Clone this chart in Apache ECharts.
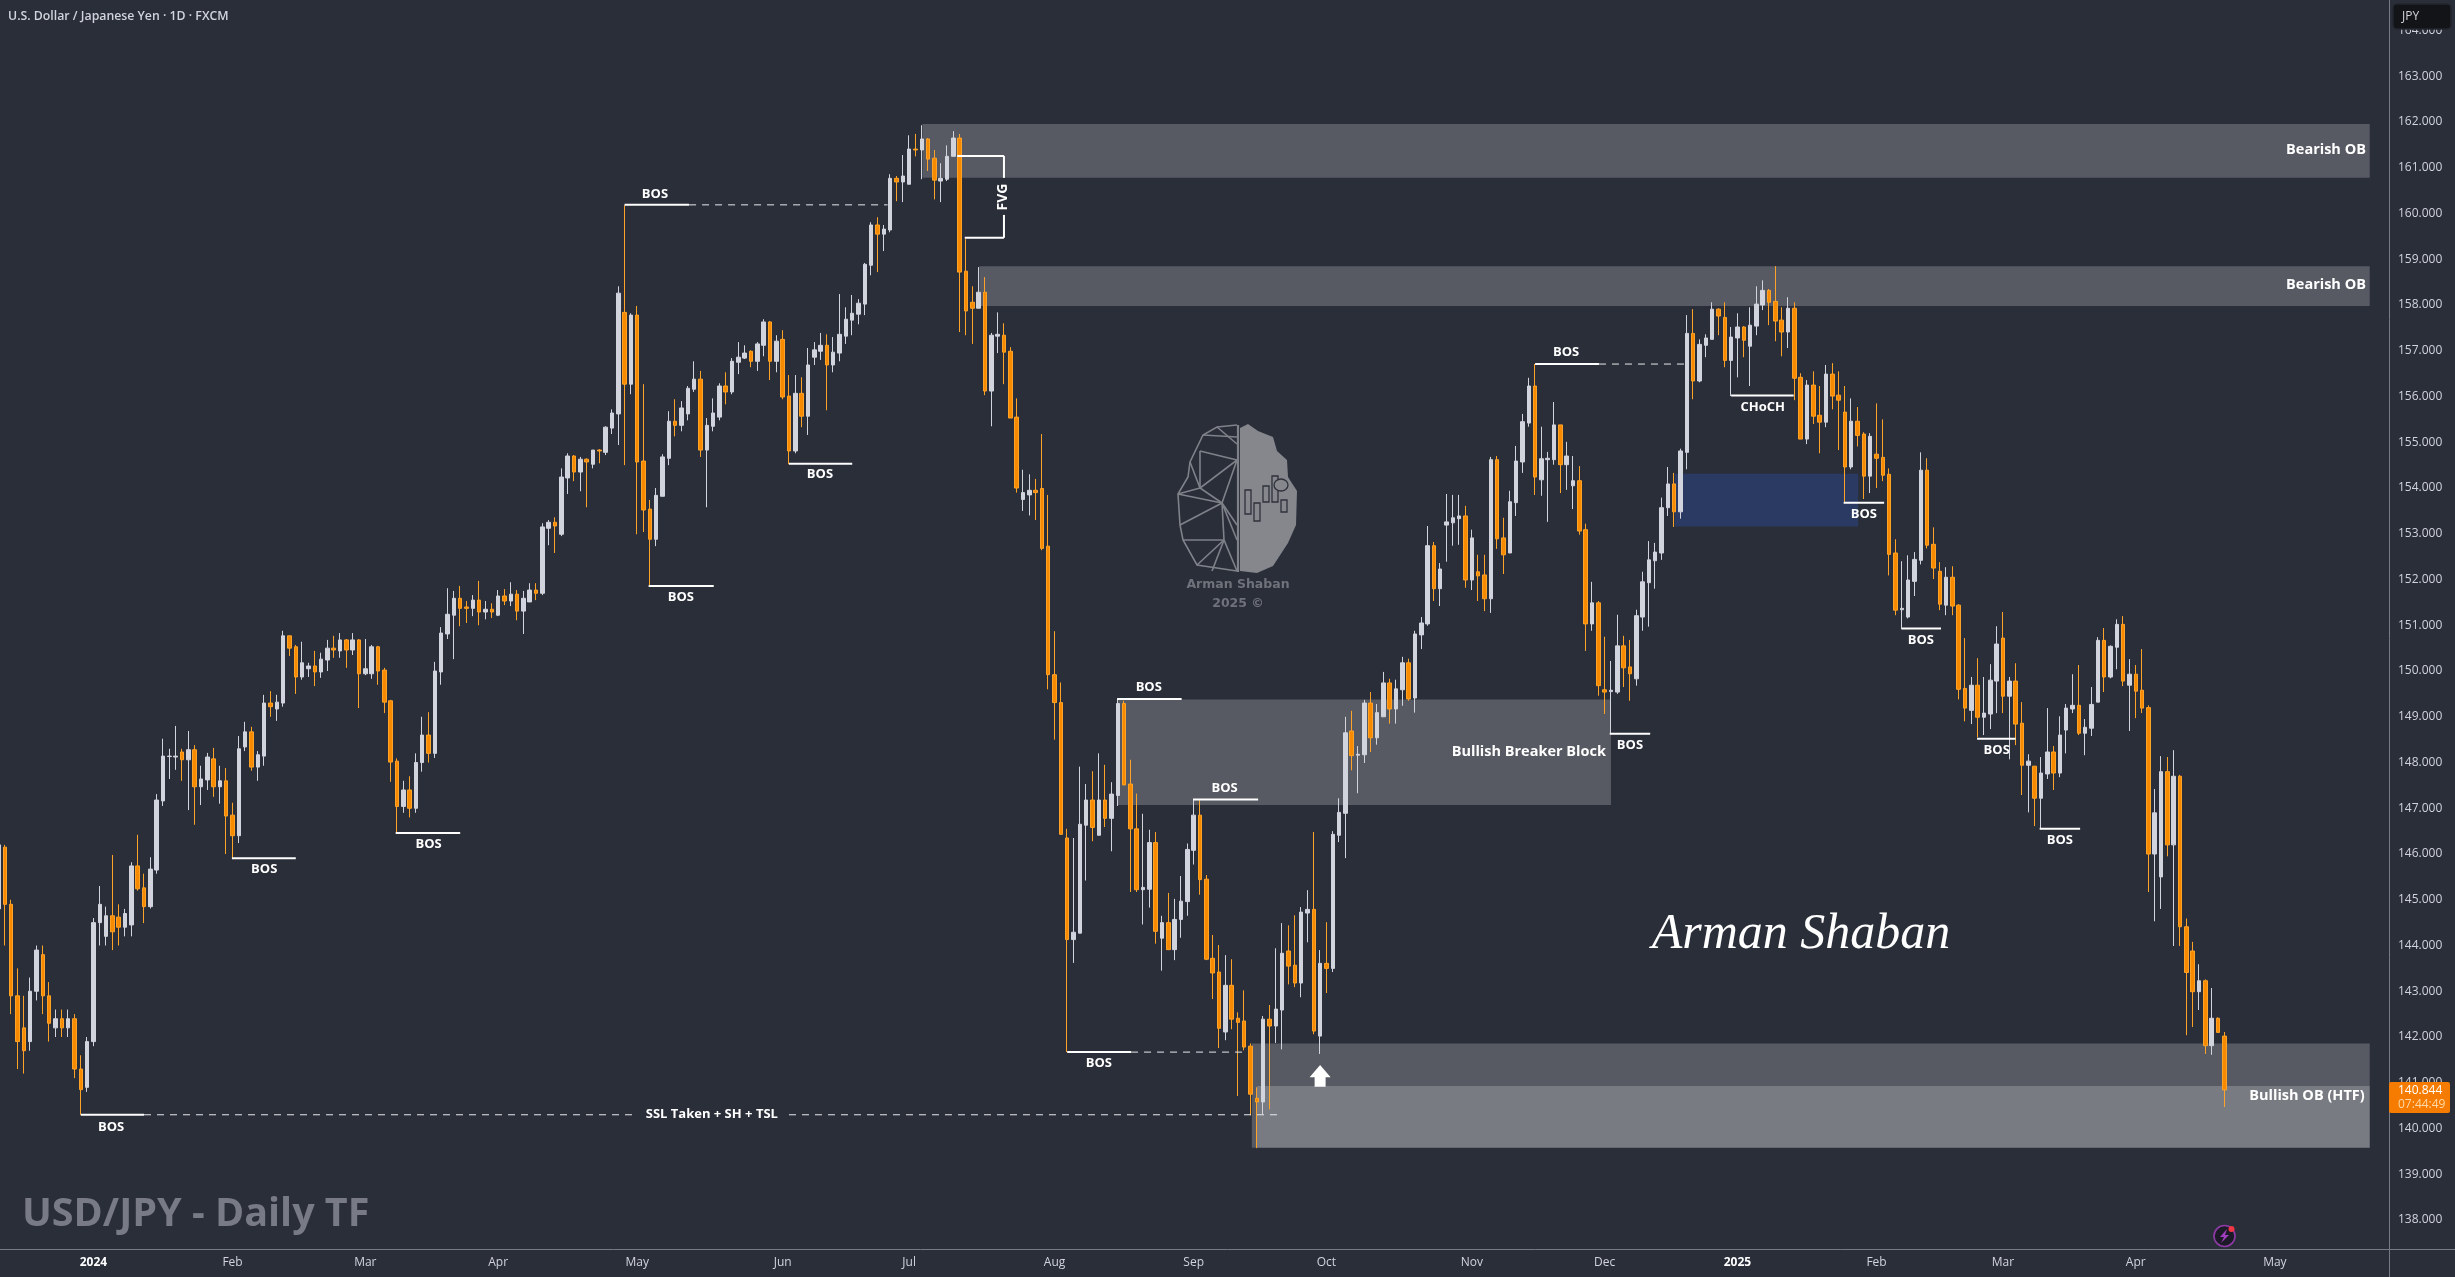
<!DOCTYPE html>
<html><head><meta charset="utf-8">
<style>html,body{margin:0;padding:0;background:#2a2e39;overflow:hidden;width:2455px;height:1277px;position:relative}#c{position:absolute;left:-5px;top:0;width:2460px;height:1277px}</style>
<script src="https://cdn.jsdelivr.net/npm/echarts@6/dist/echarts.min.js"></script>
</head><body><div id="c"></div>
<script>
const opens=[
144.8,146.15,144.9,142.9,142.2,141.9,143.0,143.8,142.9,142.2,142.4,142.2,142.4,141.3,140.9,141.9,144.5,144.2,144.65,144.62,144.4,
144.45,145.74,145.26,144.85,145.65,147.16,148.13,148.12,148.23,148.06,148.28,147.47,147.62,148.08,147.47,147.60,146.85,146.40,148.34,148.67,147.90,148.14,149.30,149.17,149.30,150.77,150.53,149.87,150.05,150.11,149.98,150.24,150.50,150.44,150.68,150.46,150.68,149.94,149.94,150.53,150.02,149.35,148.03,
147.04,147.4,147.0,148.0,148.6,148.2,
149.98,150.81,151.22,151.59,151.40,151.37,151.55,151.29,151.35,151.22,151.64,151.53,151.68,151.31,151.51,151.77,151.70,153.12,153.25,152.99,154.22,154.70,154.35,154.63,154.52,154.83,154.78,155.31,155.62,157.84,156.27,157.78,154.59,153.54,152.88,153.82,154.65,155.46,155.37,155.62,156.16,156.38,154.83,155.35,155.55,156.23,156.10,156.75,156.84,156.99,156.77,157.12,157.63,156.77,157.25,156.01,154.81,
156.07,155.57,156.86,156.99,157.12,156.69,156.95,157.32,157.67,157.80,158.02,158.87,159.75,159.55,159.64,160.77,160.69,160.64,161.41,161.39,161.63,161.21,160.71,160.75,161.25,161.65,158.74,158.06,157.93,158.28,156.12,157.32,157.34,156.99,155.55,
153.75,153.85,153.95,
153.99,152.73,149.92,149.31,146.35,144.13,144.27,146.63,147.18,146.41,147.18,146.78,147.28,149.29,147.53,146.55,145.22,145.23,146.25,144.16,144.50,143.91,144.57,144.96,146.08,146.85,
145.45,143.72,143.42,142.11,143.13,142.41,142.35,141.80,140.66,140.58,142.39,142.24,142.59,143.88,143.57,143.18,144.71,144.79,142.02,143.61,143.50,146.41,146.89,
148.69,148.16,148.17,149.30,148.54,149.00,149.74,149.17,149.59,150.18,149.41,150.79,151.03,152.74,151.80,153.19,153.24,153.33,153.39,151.99,152.17,152.10,151.58,154.62,152.91,152.58,153.68,154.57,155.42,156.23,154.18,154.62,154.62,155.38,154.51,154.05,154.16,153.09,151.03,151.49,149.59,149.55,149.54,150.55,150.09,149.83,151.18,151.93,152.41,152.58,153.57,154.09,153.48,
154.78,157.38,156.34,157.12,157.25,157.91,157.73,156.79,157.28,157.52,157.10,157.54,158.00,158.32,158.08,157.67,157.41,157.93,156.42,155.07,156.25,155.59,155.44,156.49,156.03,155.66,154.46,155.46,155.18,154.26,154.74,154.67,154.30,152.58,151.34,151.18,151.96,152.42,154.39,152.77,152.18,151.44,152.05,
151.44,149.62,149.14,149.69,148.99,149.06,149.78,150.72,149.45,149.78,148.86,147.94,147.92,147.22,147.75,148.23,147.77,148.71,149.17,149.25,148.64,148.75,149.32,150.67,149.87,150.52,151.02,149.69,149.93,149.58,
149.20,146.00,145.50,147.80,146.20,147.70,144.41,143.88,142.99,143.23,141.81,142.41,142.02];
const closes=[
146.2,144.9,142.9,141.9,141.7,143.0,143.9,142.9,142.3,142.4,142.2,142.4,141.3,140.85,141.9,144.5,144.9,144.65,144.3,144.4,144.7,
145.74,145.24,144.85,145.67,147.18,148.14,148.14,148.14,148.06,148.28,147.47,147.64,148.12,147.47,147.60,146.83,146.40,148.30,148.67,147.90,148.17,149.30,149.22,149.32,150.77,150.50,149.87,150.18,150.11,149.98,150.26,150.50,150.46,150.68,150.46,150.68,149.94,150.05,150.53,150.00,149.32,148.01,147.04,
147.4,147.0,148.0,148.6,148.2,150.0,
150.83,151.24,151.59,151.37,151.37,151.55,151.29,151.35,151.29,151.64,151.53,151.68,151.31,151.59,151.77,151.70,153.15,153.25,153.17,154.24,154.70,154.35,154.63,154.57,154.83,154.81,155.33,155.64,158.26,156.27,157.78,154.57,153.52,152.88,153.84,154.68,155.46,155.37,155.75,156.18,156.38,154.83,155.37,155.64,156.23,156.10,156.77,156.86,156.95,156.77,157.15,157.63,156.77,157.21,155.99,154.81,156.07,
155.57,156.69,157.02,157.12,156.69,156.97,157.36,157.69,157.82,158.04,158.89,159.75,159.55,159.66,160.77,160.69,160.82,161.41,161.39,161.63,161.19,160.73,160.77,161.25,161.65,158.72,157.87,157.93,158.28,156.12,157.34,157.36,156.97,155.53,154.0,
153.9,153.95,153.9,
152.68,149.92,149.31,146.43,144.13,144.29,146.65,147.18,146.58,147.18,146.78,147.31,149.29,147.51,146.55,145.22,145.27,146.25,144.31,144.50,143.91,144.57,144.97,146.10,146.85,145.44,
143.70,143.40,142.19,143.13,142.39,142.32,141.78,140.75,140.58,142.39,142.24,142.61,143.83,143.55,143.18,144.73,144.79,142.13,143.61,143.50,146.43,146.91,148.65,
148.15,148.18,149.30,148.54,149.09,149.74,149.17,149.61,150.18,149.39,150.81,151.05,152.74,151.80,152.23,153.26,153.35,153.39,151.99,152.91,152.08,151.58,154.62,152.89,152.54,153.70,154.59,155.45,156.23,154.24,154.64,154.65,155.38,154.51,154.70,154.16,153.06,151.03,151.49,149.68,149.54,149.58,150.55,150.07,149.94,151.21,151.95,152.43,152.60,153.57,154.09,153.48,154.81,
157.38,156.34,157.14,157.28,157.91,157.76,156.79,157.30,157.52,157.23,157.56,158.02,158.32,158.06,157.65,157.41,157.93,156.40,155.07,156.25,155.57,155.44,156.49,156.01,155.92,154.46,155.46,155.15,154.26,155.13,154.65,154.28,152.55,151.33,151.37,151.99,152.44,154.39,152.75,152.25,151.46,152.05,151.42,
149.60,149.19,149.69,148.99,149.08,149.80,150.59,149.45,149.78,148.84,147.94,148.03,147.22,147.77,148.23,147.77,148.60,149.19,149.25,148.64,148.77,149.27,150.67,149.87,150.54,151.02,149.78,149.93,149.56,149.19,
146.00,146.90,147.80,146.20,147.70,144.41,143.41,142.99,143.23,141.81,142.41,142.10,140.844];
const lows=[
144.6,144.0,142.5,141.3,141.2,141.7,142.8,142.5,141.9,142.0,142.0,142.0,141.1,140.3,140.8,141.8,144.0,144.0,143.9,144.0,144.2,
144.2,145.20,144.49,144.81,145.57,147.05,147.64,147.84,147.60,146.96,146.64,147.07,147.40,147.25,147.10,146.00,145.91,146.24,148.25,147.82,147.60,147.93,149.00,148.91,149.22,150.33,149.50,149.81,149.87,149.67,149.85,150.00,150.29,150.29,150.07,150.35,149.19,149.91,149.83,149.70,149.08,147.58,146.46,
146.9,146.8,146.9,147.8,148.0,148.1,
149.7,150.70,150.26,150.98,151.05,151.20,151.00,151.13,151.16,151.20,151.44,151.42,151.11,150.81,151.51,151.55,151.66,152.75,152.58,152.95,153.87,154.15,153.93,153.58,154.43,154.54,154.72,155.18,154.94,154.50,156.05,152.99,153.04,151.86,152.73,153.82,154.50,155.13,155.24,155.48,156.10,154.68,153.58,155.24,155.48,155.83,156.05,156.49,156.82,156.64,156.56,156.88,156.36,156.53,155.94,154.52,154.76,
155.33,155.16,156.69,156.80,155.70,156.53,156.77,157.15,157.34,157.58,157.78,158.65,158.72,159.18,159.59,160.27,160.25,160.64,161.25,160.75,160.93,160.31,160.25,160.71,161.25,157.41,157.34,157.15,157.93,156.03,155.35,156.95,156.27,155.53,153.9,
153.5,153.4,153.3,
152.64,149.60,148.50,146.43,141.67,143.62,144.27,145.42,146.28,146.41,146.59,146.06,147.05,147.51,145.17,145.17,144.46,144.83,144.04,143.45,143.91,143.68,144.17,144.65,145.77,145.11,
143.68,142.83,141.76,141.93,142.17,140.71,141.71,140.29,139.57,140.31,140.42,141.87,141.73,143.15,143.09,142.87,144.07,142.06,141.63,142.96,143.42,146.26,145.91,
147.83,147.33,147.99,148.23,148.39,149.00,148.85,148.85,149.24,149.35,149.09,150.48,150.99,151.53,151.42,152.39,152.74,152.76,151.82,151.77,151.53,151.31,151.27,152.67,152.12,152.58,153.39,154.33,155.34,153.85,153.83,153.26,154.51,153.89,153.96,153.54,152.98,150.44,150.88,149.46,149.06,148.63,149.50,149.65,149.35,149.68,150.88,150.97,151.80,152.43,153.39,153.15,153.33,
154.41,155.94,156.31,156.86,157.25,157.34,156.64,156.01,156.42,156.86,156.23,157.34,157.89,157.56,157.21,156.88,157.06,155.92,155.07,154.96,155.40,154.76,155.33,155.72,154.83,153.67,154.41,154.91,153.76,153.89,154.00,154.15,152.09,151.22,150.91,151.15,151.64,152.33,152.68,152.01,151.33,151.22,151.22,
149.38,148.90,148.84,148.55,148.60,148.73,149.08,149.08,148.07,148.38,147.29,146.91,146.61,146.54,147.64,147.40,147.68,148.20,149.08,148.60,148.16,148.58,149.32,149.54,149.84,150.04,149.67,148.69,148.97,149.08,
145.17,144.53,144.80,145.95,143.99,143.99,142.04,142.22,142.59,141.63,141.61,142.10,140.47];
const highs=[
146.25,146.2,145.0,143.5,142.9,143.3,144.0,144.0,143.2,142.6,142.6,142.6,142.5,141.6,142.0,144.6,145.3,144.85,145.98,144.9,144.8,
145.82,146.42,145.57,145.93,147.31,148.52,148.30,148.80,148.30,148.69,148.38,147.93,148.21,148.32,147.93,147.88,147.12,148.58,148.89,148.78,148.25,149.48,149.56,149.48,150.88,150.77,150.57,150.64,150.18,150.44,150.40,150.68,150.77,150.83,150.70,150.83,150.70,150.70,150.57,150.55,150.07,149.37,148.09,
147.6,147.7,148.2,149.0,149.1,150.2,
150.96,151.81,151.75,151.86,151.53,151.66,151.97,151.53,151.48,151.77,151.79,151.94,151.77,151.75,151.92,151.92,153.23,153.30,153.36,154.43,154.76,154.72,154.68,154.65,154.83,154.85,155.35,155.72,158.41,160.18,157.82,157.98,156.27,153.74,154.00,154.74,155.68,155.94,155.90,156.23,156.77,156.56,155.53,155.96,156.29,156.53,156.84,157.19,157.12,157.01,157.19,157.69,157.65,157.34,157.45,156.47,156.47,
156.42,157.06,157.19,157.39,157.36,157.30,158.24,157.95,158.22,158.13,158.92,159.81,159.92,159.75,160.86,160.82,161.28,161.71,161.74,161.93,161.65,161.39,161.10,161.49,161.80,161.74,159.44,158.41,158.83,158.61,157.39,157.84,157.60,157.08,155.96,
154.4,154.3,154.2,
155.18,153.85,150.87,149.75,146.55,146.35,147.91,147.53,147.81,148.20,147.95,147.57,149.39,149.35,148.06,147.32,146.88,146.53,146.48,144.65,145.15,145.02,145.52,146.23,147.18,147.18,
145.54,144.23,144.01,143.79,143.70,142.54,143.02,141.86,140.90,142.46,142.70,143.94,144.49,144.44,144.66,144.84,145.21,146.48,143.90,144.51,146.50,147.22,149.00,
149.13,148.36,149.37,149.54,149.28,149.98,149.83,149.81,150.31,150.27,150.88,151.18,153.17,152.82,152.36,153.87,153.85,153.85,153.61,153.09,152.54,152.54,154.68,154.70,153.35,153.94,154.92,155.62,156.41,156.71,155.34,154.79,155.88,155.38,155.01,154.70,154.48,153.22,151.95,151.53,150.75,150.22,151.23,150.77,150.68,151.34,152.17,152.84,152.80,153.79,154.46,154.33,154.86,
157.78,157.91,157.25,157.36,158.06,157.93,158.06,157.52,157.82,157.54,157.95,158.41,158.54,158.35,158.85,157.95,158.17,158.06,156.51,156.36,156.55,156.23,156.69,156.73,156.55,156.23,155.96,155.77,155.22,155.20,155.85,155.50,154.43,152.88,152.40,152.53,152.60,154.78,154.65,153.14,152.38,152.27,152.29,
151.46,150.72,149.87,150.28,149.87,150.15,150.98,151.29,149.87,150.17,149.32,148.18,147.92,148.12,149.19,148.36,149.01,149.28,149.93,150.13,148.95,149.65,150.74,150.94,150.56,151.13,151.20,150.26,150.13,150.48,
149.25,147.42,148.14,148.12,148.27,147.73,144.59,144.08,143.59,143.26,143.07,142.43,142.11];
const tickBars=[15,37,58,79,101,124,144,167,189,210,233,254,275,297,317,338,360];
const tickLabels=['2024','Feb','Mar','Apr','May','Jun','Jul','Aug','Sep','Oct','Nov','Dec','2025','Feb','Mar','Apr','May'];
const blankBars=26;
// zones: start bar, end bar, top price, bottom price, colour
const zones=[
[146.1,375,161.96,160.78,'rgba(255,255,255,0.21)'],
[155.1,375,158.85,157.98,'rgba(255,255,255,0.21)'],
[177,255,149.38,147.07,'rgba(255,255,255,0.21)'],
[265.1,294.1,154.31,153.16,'#2a3a63'],
[198.2,375,141.86,139.58,'rgba(255,255,255,0.21)'],
[199,375,140.93,139.58,'rgba(255,255,255,0.2)']];
// solid segments: start bar, end bar, price
const solidLines=[[13,23,140.30],[36.9,47,145.91],[62.8,73,146.46],[99,109.2,160.19],[102.8,113.1,151.86],[125,135,154.53],
[151.6,159,161.26],[152.8,159,159.47],[176.9,187.1,149.39],[188.9,199.2,147.19],[169,179.1,141.67],[254.8,261.2,148.63],
[243,253.1,156.71],[274,283.9,156.02],[291.8,298.2,153.68],[301,307.2,150.93],[312.9,319,148.52],[322.8,329.2,146.55]];
const dashedLines=[[23,101,140.30],[125,202.8,140.30],[109.2,140.6,160.19],[179.1,197.4,141.67],[253.1,267.5,156.71]];
const fvgStems=[[159,161.26,160.78],[159,159.97,159.47]];
const notes=[
['BOS',17.8,140.03],['BOS',42,145.67],['BOS',68,146.22],['BOS',103.8,160.43],['BOS',107.9,151.62],['BOS',129.9,154.29],
['BOS',181.9,149.65],['BOS',193.9,147.44],['BOS',174,141.43],['BOS',258,148.38],['BOS',247.9,156.97],['CHoCH',279,155.77],
['BOS',295,153.43],['BOS',304,150.68],['BOS',316,148.27],['BOS',326,146.31],['SSL Taken + SH + TSL',112.8,140.30]];
const zoneNotes=[['Bearish OB',374.4,161.39],['Bearish OB',374.4,158.44],['Bullish Breaker Block',254.2,148.23],['Bullish OB (HTF)',374.2,140.71]];
const fvgNote=['FVG',158.8,160.36];
const arrowNote=[209,141.39,140.91];

const K=opens.length, N=K+blankBars;
const categories=Array.from({length:N},(_,i)=>i);
const ohlc=opens.map((o,i)=>[o,closes[i],lows[i],highs[i]]);
const FONT='"Open Sans","Noto Sans",sans-serif';
const labelOf={};tickBars.forEach((b,i)=>labelOf[b]=tickLabels[i]);

const chart=echarts.init(document.getElementById('c'),null,{renderer:'canvas',width:2460,height:1277});
const logoStroke='#7f8289';
function pl(pts){return {type:'polyline',silent:true,z:2,shape:{points:pts},style:{stroke:logoStroke,lineWidth:1.6,fill:null}};}
const logoLines=[
[[1237,425],[1217,427],[1203,435],[1190,462],[1188,477],[1178,494],[1180,525],[1183,540],[1197,565],[1237,571]],
[[1222,503],[1237,460],[1200,488],[1222,503]],
[[1200,451],[1237,460]],[[1200,451],[1200,488]],[[1217,427],[1237,444]],[[1203,435],[1237,437]],
[[1222,503],[1178,494]],[[1222,503],[1180,525]],[[1222,503],[1237,540]],[[1222,503],[1224,540],[1197,565]],
[[1183,540],[1224,540]],[[1224,540],[1237,571]],[[1224,540],[1212,571]],[[1200,488],[1190,462]],[[1200,488],[1178,494]],[[1237,525],[1222,503]]
];
const logoCandles=[[1245,490,6,24],[1254,503,6,18],[1263,486,6,16],[1272,476,6,26],[1281,500,6,12]];
const graphics=[
 {type:'line',z:90,silent:true,shape:{x1:2389.5,y1:0,x2:2389.5,y2:1277},style:{stroke:'#787b86',lineWidth:1}},
 {type:'line',z:90,silent:true,shape:{x1:0,y1:1249.5,x2:2455,y2:1249.5},style:{stroke:'#787b86',lineWidth:1}},
 {type:'text',z:90,silent:true,style:{x:8,y:16,text:'U.S. Dollar / Japanese Yen · 1D · FXCM',fill:'#d1d4dc',font:'600 12.3px '+FONT,verticalAlign:'middle'}},
 {type:'text',z:2,silent:true,style:{x:22,y:1215,text:'USD/JPY - Daily TF',fill:'#787b86',font:'bold 39.5px '+FONT,verticalAlign:'middle'}},
 {type:'rect',z:95,silent:true,shape:{x:2393,y:4,width:58,height:25,r:4},style:{fill:'#131418',stroke:'#23262e',lineWidth:1.5}},
 {type:'text',z:96,silent:true,style:{x:2402,y:17,text:'JPY',fill:'#d1d4dc',font:'12px '+FONT,verticalAlign:'middle'}},
 {type:'rect',z:95,silent:true,shape:{x:2389,y:1082,width:61,height:31,r:2},style:{fill:'#f57c00'}},
 {type:'text',z:96,silent:true,style:{x:2398,y:1091,text:'140.844',fill:'#ffffff',font:'12px '+FONT,verticalAlign:'middle'}},
 {type:'text',z:96,silent:true,style:{x:2398,y:1105,text:'07:44:49',fill:'#ffd9a8',font:'12px '+FONT,verticalAlign:'middle'}},
 {type:'polygon',z:2,silent:true,shape:{points:[[1240,428],[1248,424],[1258,431],[1273,437],[1277,451],[1287,460],[1288,477],[1297,491],[1296,525],[1288,543],[1273,566],[1257,573],[1240,571]]},style:{fill:'#85878d'}},
 {type:'line',z:2,silent:true,shape:{x1:1238,y1:425,x2:1238,y2:572},style:{stroke:logoStroke,lineWidth:2.2}},
 {type:'ellipse',z:4,silent:true,shape:{cx:1281,cy:485,rx:7,ry:6},style:{fill:'#85878d',stroke:'#2f323b',lineWidth:1.3}},
 {type:'text',z:2,silent:true,style:{x:1238,y:585,text:'Arman Shaban',fill:'#6f727a',font:'bold 12.5px "DejaVu Sans",sans-serif',align:'center',verticalAlign:'middle'}},
 {type:'text',z:2,silent:true,style:{x:1238,y:604,text:'2025 ©',fill:'#6f727a',font:'bold 12.5px "DejaVu Sans",sans-serif',align:'center',verticalAlign:'middle'}},
 {type:'text',z:2,silent:true,style:{x:1801,y:935,text:'Arman Shaban',fill:'#ffffff',font:'italic 50px "Liberation Serif",serif',align:'center',verticalAlign:'middle'}},
 {type:'circle',z:90,silent:true,shape:{cx:2224.5,cy:1236,r:10.5},style:{fill:'#1c1a26',stroke:'#8e3aa6',lineWidth:1.6}},
 {type:'polygon',z:91,silent:true,shape:{points:[[2227,1229],[2220,1237],[2224,1237],[2221,1243],[2229,1235],[2225,1235]]},style:{fill:'#a13ec0'}},
 {type:'circle',z:92,silent:true,shape:{cx:2231.5,cy:1229,r:3},style:{fill:'#f23645'}}
];
logoLines.forEach(p=>graphics.push(pl(p)));
logoCandles.forEach(c=>graphics.push({type:'rect',z:3,silent:true,shape:{x:c[0],y:c[1],width:c[2],height:c[3]},style:{fill:'#85878d',stroke:'#2f323b',lineWidth:1.3}}));

function rectItem(z,api){const a=api.coord([z[0],z[2]]),b=api.coord([z[1],z[3]]);
 return {type:'rect',shape:{x:a[0],y:a[1],width:b[0]-a[0],height:b[1]-a[1]},style:{fill:z[4]}};}
const noteFont='bold 13px '+FONT;

chart.setOption({
 animation:false,backgroundColor:'#2a2e39',
 graphic:{elements:[{type:'group',x:5,y:0,silent:true,children:graphics}]},
 grid:{left:0.44,right:63.14,top:30.55,bottom:11.25,containLabel:false},
 xAxis:[{type:'category',data:categories,boundaryGap:true,offset:-16.75,
   axisLine:{show:false},axisTick:{show:false},splitLine:{show:false},
   axisLabel:{interval:0,margin:8,color:'#d1d4dc',fontSize:12,fontFamily:FONT,hideOverlap:false,
     formatter:v=>{const t=labelOf[v];if(!t)return '';return /^\d/.test(t)?'{b|'+t+'}':t;},
     rich:{b:{fontWeight:'bold',fontSize:12,color:'#ffffff',fontFamily:FONT}}}},
  {type:'value',min:-0.5,max:N-0.5,show:false,position:'top',splitLine:{show:false}}],
 yAxis:[{type:'value',position:'right',min:137,max:164,interval:1,offset:-2.86,
   axisLine:{show:false},axisTick:{show:false},splitLine:{show:false},
   axisLabel:{margin:9,color:'#d1d4dc',fontSize:12,fontFamily:FONT,
     formatter:v=>(v===137)?'':v.toFixed(3)}}],
 series:[
  {type:'custom',name:'zones',xAxisIndex:1,yAxisIndex:0,z:1,clip:false,silent:true,
   data:zones.map(z=>[z[0],z[2]]),renderItem:(p,api)=>rectItem(zones[p.dataIndex],api)},
  {type:'candlestick',xAxisIndex:0,yAxisIndex:0,z:3,data:ohlc,barWidth:4,large:false,progressive:0,silent:true,clip:false,
   itemStyle:{color:'#d1d4dc',color0:'#f88a00',borderColor:'#d1d4dc',borderColor0:'#ffa328',borderWidth:1}},
  {type:'custom',name:'levels',xAxisIndex:1,yAxisIndex:0,z:4,clip:false,silent:true,
   data:solidLines.map(s=>[s[0],s[2]]),renderItem:(p,api)=>{const s=solidLines[p.dataIndex],a=api.coord([s[0],s[2]]),b=api.coord([s[1],s[2]]);
     return {type:'line',shape:{x1:a[0],y1:a[1],x2:b[0],y2:b[1]},style:{stroke:'#ffffff',lineWidth:2}};}},
  {type:'custom',name:'dashed',xAxisIndex:1,yAxisIndex:0,z:4,clip:false,silent:true,
   data:dashedLines.map(s=>[s[0],s[2]]),renderItem:(p,api)=>{const s=dashedLines[p.dataIndex],a=api.coord([s[0],s[2]]),b=api.coord([s[1],s[2]]);
     return {type:'line',shape:{x1:a[0],y1:a[1],x2:b[0],y2:b[1]},style:{stroke:'#e8e9ec',lineWidth:1,lineDash:[7,6]}};}},
  {type:'custom',name:'fvg',xAxisIndex:1,yAxisIndex:0,z:4,clip:false,silent:true,
   data:fvgStems.map(s=>[s[0],s[1]]),renderItem:(p,api)=>{const s=fvgStems[p.dataIndex],a=api.coord([s[0],s[1]]),b=api.coord([s[0],s[2]]);
     return {type:'line',shape:{x1:a[0],y1:a[1],x2:b[0],y2:b[1]},style:{stroke:'#ffffff',lineWidth:2}};}},
  {type:'custom',name:'notes',xAxisIndex:1,yAxisIndex:0,z:5,clip:false,silent:true,
   data:notes.map(n=>[n[1],n[2]]),renderItem:(p,api)=>{const n=notes[p.dataIndex],a=api.coord([n[1],n[2]]);
     return {type:'text',style:{x:a[0],y:a[1],text:n[0],fill:'#ffffff',font:noteFont,align:'center',verticalAlign:'middle'}};}},
  {type:'custom',name:'zoneNotes',xAxisIndex:1,yAxisIndex:0,z:5,clip:false,silent:true,
   data:zoneNotes.map(n=>[n[1],n[2]]),renderItem:(p,api)=>{const n=zoneNotes[p.dataIndex],a=api.coord([n[1],n[2]]);
     return {type:'text',style:{x:a[0],y:a[1],text:n[0],fill:'#ffffff',font:'bold 14.5px '+FONT,align:'right',verticalAlign:'middle'}};}},
  {type:'custom',name:'fvgNote',xAxisIndex:1,yAxisIndex:0,z:5,clip:false,silent:true,
   data:[[fvgNote[1],fvgNote[2]]],renderItem:(p,api)=>{const a=api.coord([fvgNote[1],fvgNote[2]]);
     return {type:'text',x:a[0],y:a[1],rotation:Math.PI/2,style:{x:0,y:0,text:fvgNote[0],fill:'#ffffff',font:'bold 14px '+FONT,align:'center',verticalAlign:'middle'}};}},
  {type:'custom',name:'arrow',xAxisIndex:1,yAxisIndex:0,z:5,clip:false,silent:true,
   data:[[arrowNote[0],arrowNote[1]]],renderItem:(p,api)=>{const t=api.coord([arrowNote[0],arrowNote[1]]),b=api.coord([arrowNote[0],arrowNote[2]]),h=(b[1]-t[1]);
     return {type:'polygon',shape:{points:[[t[0],t[1]],[t[0]+10.5,t[1]+h*0.56],[t[0]+5.5,t[1]+h*0.56],[t[0]+5.5,b[1]],[t[0]-5.5,b[1]],[t[0]-5.5,t[1]+h*0.56],[t[0]-10.5,t[1]+h*0.56]]},style:{fill:'#ffffff'}};}}
 ]
});
</script></body></html>
